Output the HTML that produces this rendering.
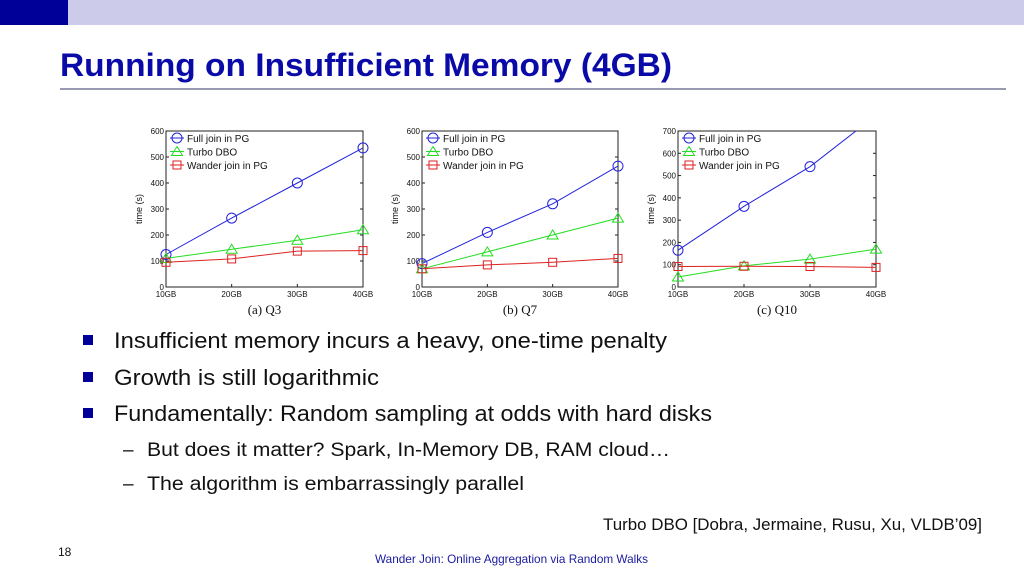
<!DOCTYPE html>
<html><head><meta charset="utf-8"><style>
html,body{margin:0;padding:0;background:#fff}
svg{display:block;font-family:"Liberation Sans",sans-serif}
</style></head><body>
<svg width="1024" height="576" viewBox="0 0 1024 576">
<rect x="0" y="0" width="1024" height="25" fill="#ccccea"/>
<rect x="0" y="0" width="68" height="25" fill="#000099"/>
<text x="60" y="76" font-size="32" font-weight="bold" fill="#0a0aa8" textLength="612" lengthAdjust="spacingAndGlyphs">Running on Insufficient Memory (4GB)</text>
<line x1="60" y1="89" x2="1006" y2="89" stroke="#333366" stroke-width="1"/>
<g id="charts"></g>
<g fill="#000099">
<rect x="83" y="335" width="10" height="10"/>
<rect x="83" y="372" width="10" height="10"/>
<rect x="83" y="408" width="10" height="10"/>
</g>
<g fill="#111" font-size="22">
<text x="114" y="348" textLength="553" lengthAdjust="spacingAndGlyphs">Insufficient memory incurs a heavy, one-time penalty</text>
<text x="114" y="385" textLength="265" lengthAdjust="spacingAndGlyphs">Growth is still logarithmic</text>
<text x="114" y="421" textLength="598" lengthAdjust="spacingAndGlyphs">Fundamentally: Random sampling at odds with hard disks</text>
</g>
<g fill="#111" font-size="19">
<text x="123" y="456">–</text>
<text x="123" y="490">–</text>
<text x="147" y="456" textLength="523" lengthAdjust="spacingAndGlyphs">But does it matter? Spark, In-Memory DB, RAM cloud…</text>
<text x="147" y="490" textLength="377" lengthAdjust="spacingAndGlyphs">The algorithm is embarrassingly parallel</text>
</g>
<text x="603" y="530" font-size="17" fill="#111" textLength="379" lengthAdjust="spacingAndGlyphs">Turbo DBO [Dobra, Jermaine, Rusu, Xu, VLDB’09]</text>
<text x="58" y="556" font-size="12" fill="#111">18</text>
<text x="375" y="563" font-size="12" fill="#1a1aa0" textLength="273" lengthAdjust="spacingAndGlyphs">Wander Join: Online Aggregation via Random Walks</text>
</svg>
<script>
const categories = ["10GB","20GB","30GB","40GB"];
const seriesNames = ["Full join in PG","Turbo DBO","Wander join in PG"];
const q3Full = [125,265,400,535];
const q3Turbo = [110,145,180,220];
const q3Wander = [95,108,138,140];
const q7Full = [90,210,320,465];
const q7Turbo = [70,135,200,265];
const q7Wander = [70,85,95,110];
const q10Full = [165,362,540,770];
const q10Turbo = [45,95,125,170];
const q10Wander = [92,93,92,88];
const yTicks600 = [0,100,200,300,400,500,600];
const yTicks700 = [0,100,200,300,400,500,600,700];
const captions = ["(a) Q3","(b) Q7","(c) Q10"];

const NS = "http://www.w3.org/2000/svg";
const root = document.getElementById("charts");
const colors = ["#2222dd","#22dd22","#dd2222"];
function mk(tag, attrs, parent){const e=document.createElementNS(NS,tag);for(const k in attrs)e.setAttribute(k,attrs[k]);parent.appendChild(e);return e;}

function marker(g, type, x, y, c){
  let m;
  if(type===0){m=mk("circle",{cx:x,cy:y,r:5,fill:"none",stroke:c,"stroke-width":1},g);}
  else if(type===1){m=mk("polygon",{points:`${x},${y-5} ${x-5.5},${y+4} ${x+5.5},${y+4}`,fill:"none",stroke:c,"stroke-width":1},g);}
  else {m=mk("rect",{x:x-4,y:y-4,width:8,height:8,fill:"none",stroke:c,"stroke-width":1},g);}
  return m;
}

function chart(idx, left, right, top, bottom, ymax, ticks, series){
  const g = mk("g",{},root);
  
  
  const xs = i => left + (right-left)*i/(categories.length-1);
  const ys = v => bottom - (bottom-top)*v/ymax;
  const clipId = "clip"+idx;
  const cp = mk("clipPath",{id:clipId},g);
  mk("rect",{x:left-8,y:top,width:right-left+16,height:bottom-top+8},cp);
  const frame = mk("rect",{x:left,y:top,width:right-left,height:bottom-top,fill:"#fff",stroke:"#222","stroke-width":1},g);
  
  
  ticks.forEach(t=>{
    const y = ys(t);
    mk("line",{x1:left,y1:y,x2:left+3,y2:y,stroke:"#222"},g);
    mk("line",{x1:right,y1:y,x2:right-3,y2:y,stroke:"#222"},g);
    const tl = mk("text",{x:left-2,y:y+3,"font-size":8,"text-anchor":"end",fill:"#111"},g);
    tl.textContent = t;
    
    
  });
  categories.forEach((c,i)=>{
    const x = xs(i);
    mk("line",{x1:x,y1:bottom,x2:x,y2:bottom-3,stroke:"#222"},g);
    const tl = mk("text",{x:x,y:bottom+10,"font-size":8,"text-anchor":"middle",fill:"#111"},g);
    tl.textContent = c;
    
    
  });
  const yt = mk("text",{x:0,y:0,"font-size":9,"text-anchor":"middle",fill:"#111",transform:`translate(${left-24},${(top+bottom)/2}) rotate(-90)`},g);
  yt.textContent = "time (s)";
  
  
  const cap = mk("text",{x:(left+right)/2,y:bottom+27,"font-size":13,"text-anchor":"middle",fill:"#111","font-family":"Liberation Serif, serif"},g);
  cap.textContent = captions[idx];
  
  
  const sg = mk("g",{"clip-path":`url(#${clipId})`},g);
  series.forEach((vals,s)=>{
    const pts = vals.map((v,i)=>xs(i)+","+ys(v)).join(" ");
    const pl = mk("polyline",{points:pts,fill:"none",stroke:colors[s],"stroke-width":1},sg);
    
    
    vals.forEach((v,i)=>{
      const m = marker(sg,s,xs(i),ys(v),colors[s]);
      
      
    });
  });
  const lg = mk("g",{},g);
  
  
  seriesNames.forEach((n,s)=>{
    const y = top+7+s*13.5;
    mk("line",{x1:left+4,y1:y,x2:left+18,y2:y,stroke:colors[s]},lg);
    marker(lg,s,left+11,y,colors[s]);
    const t = mk("text",{x:left+21,y:y+4,"font-size":10,fill:"#111"},lg);
    t.textContent = n;
    
    
  });
}
chart(0,166,363,131,287,600,yTicks600,[q3Full,q3Turbo,q3Wander]);
chart(1,422,618,131,287,600,yTicks600,[q7Full,q7Turbo,q7Wander]);
chart(2,678,876,131,287,700,yTicks700,[q10Full,q10Turbo,q10Wander]);
</script>
</body></html>
